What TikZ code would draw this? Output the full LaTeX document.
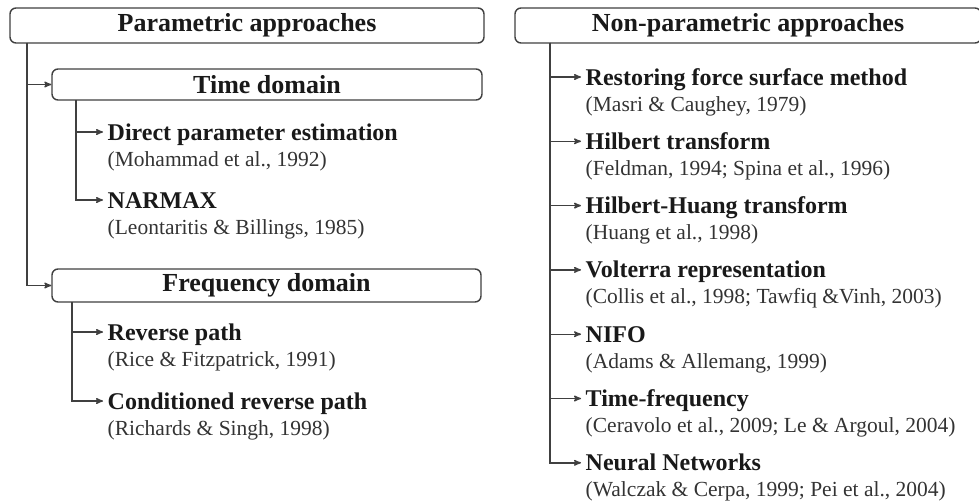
\documentclass[tikz,border=0pt]{standalone}
\usepackage{fontspec}
\setmainfont{Liberation Serif}
\usetikzlibrary{arrows}

\begin{document}
\begin{tikzpicture}[x=1pt,y=-1pt,->,>=stealth',
    line width=1.4pt,
    color=black!75,
    headbox/.style={rectangle,draw=black!75,rounded corners=6pt,
        minimum height=33pt,inner sep=0pt,fill=white},
    headtext/.style={font=\fontsize{26}{30}\selectfont\bfseries,text=black!90},
    item/.style={anchor=base west,inner xsep=4pt,inner ysep=0pt,
        text height=18pt,text depth=2pt,
        font=\fontsize{24}{28}\selectfont\bfseries,text=black!90},
    cite/.style={anchor=base west,inner sep=0pt,
        font=\fontsize{21.5}{26}\selectfont,text=black!80}]

    \useasboundingbox (0,0) rectangle (979,503);

    % parametric side
    \node[headbox,minimum width=474pt,minimum height=35pt] (ptitle) at (247,25.5) {};
    \node[headtext] at (ptitle.center) {Parametric approaches};

    \node[headbox,minimum width=430pt,minimum height=31pt] (tbox) at (267,84.5) {};
    \node[headtext] at (tbox.center) {Time domain};

    \node[headbox,minimum width=429pt] (fbox) at (266.5,285.5) {};
    \node[headtext] at (fbox.center) {Frequency domain};

    \node[item] (dpe) at (103,140) {Direct parameter estimation};
    \node[cite] (dpec) at (107,166) {(Mohammad et al., 1992)};
    \node[item] (narmax) at (103,208) {NARMAX};
    \node[cite] (narmaxc) at (107,234) {(Leontaritis \& Billings, 1985)};

    \node[item] (rp) at (103,340) {Reverse path};
    \node[cite] (rpc) at (107,366) {(Rice \& Fitzpatrick, 1991)};
    \node[item] (crp) at (103,409) {Conditioned reverse path};
    \node[cite] (crpc) at (107,435) {(Richards \& Singh, 1998)};

    % non-parametric side
    \node[headbox,minimum width=466pt,minimum height=35pt] (ntitle) at (748,25.5) {};
    \node[headtext] at (ntitle.center) {Non-parametric approaches};

    \node[item] (rfs) at (581,85) {Restoring force surface method};
    \node[cite] (rfsc) at (585,111) {(Masri \& Caughey, 1979)};
    \node[item] (ht) at (581,149.3) {Hilbert transform};
    \node[cite] (htc) at (585,175.3) {(Feldman, 1994; Spina et al., 1996)};
    \node[item] (hht) at (581,213.6) {Hilbert-Huang transform};
    \node[cite] (hhtc) at (585,239.6) {(Huang et al., 1998)};
    \node[item] (vr) at (581,277.9) {Volterra representation};
    \node[cite] (vrc) at (585,303.9) {(Collis et al., 1998; Tawfiq \&Vinh, 2003)};
    \node[item] (nifo) at (581,342.2) {NIFO};
    \node[cite] (nifoc) at (585,368.2) {(Adams \& Allemang, 1999)};
    \node[item] (tf) at (581,406.5) {Time-frequency};
    \node[cite] (tfc) at (585,432.5) {(Ceravolo et al., 2009; Le \& Argoul, 2004)};
    \node[item] (nn) at (581,470.8) {Neural Networks};
    \node[cite] (nnc) at (585,496.8) {(Walczak \& Cerpa, 1999; Pei et al., 2004)};

    \coordinate (lt) at (27,43);
    \coordinate (ts) at (76,100);
    \coordinate (fs) at (72,302);
    \coordinate (rt) at (550,43);

    %left tree
    \draw (lt) |- (tbox.west);
    \draw (lt) |- (fbox.west);
    \draw (ts) |- (dpe.west);
    \draw (ts) |- (narmax.west);
    \draw (fs) |- (rp.west);
    \draw (fs) |- (crp.west);

    %right tree
    \foreach \n in {rfs,ht,hht,vr,nifo,tf,nn}
        \draw (rt) |- (\n.west);

\end{tikzpicture}
\end{document}
